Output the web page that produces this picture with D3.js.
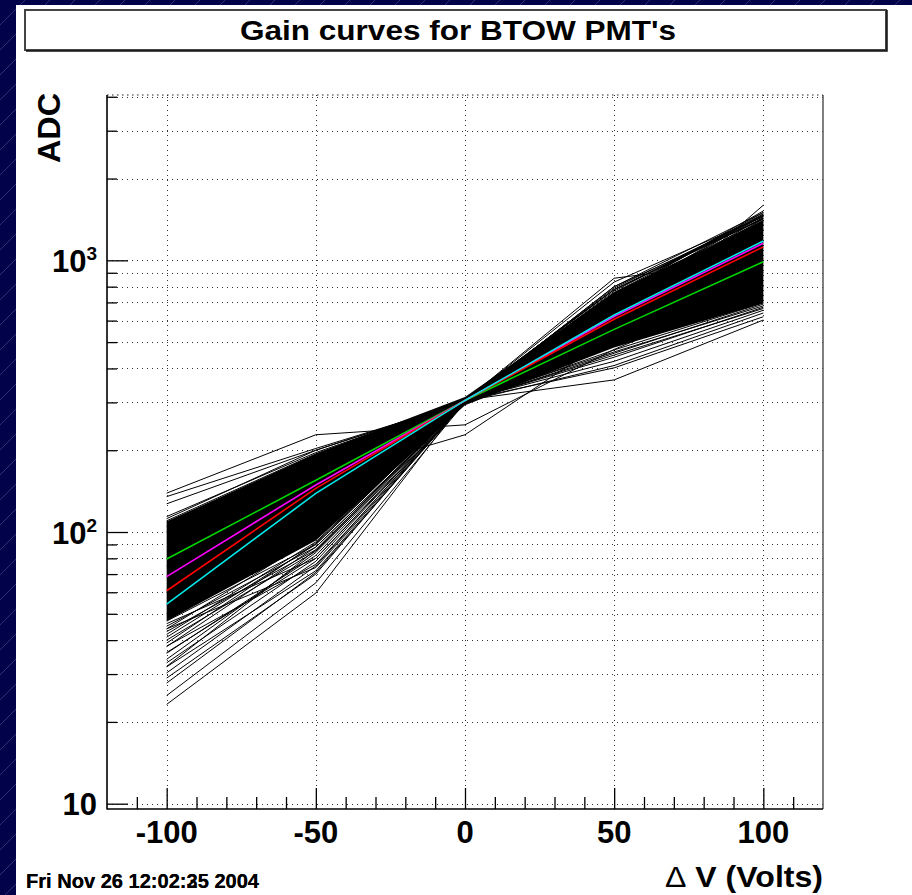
<!DOCTYPE html>
<html><head><meta charset="utf-8">
<script src="https://cdn.jsdelivr.net/npm/d3@7"></script>
<style>body{margin:0;background:#fff}svg{display:block}</style>
</head><body>
<svg id="c" width="912" height="895"></svg>
<script>
// ---------- data ----------
const xValues = [-100, -50, 0, 50, 100];
const xMajorTicks = [-100, -50, 0, 50, 100];
const xTickLabels = ["-100", "-50", "0", "50", "100"];
const xMinorTicks = [-110, -90, -80, -70, -60, -40, -30, -20, -10, 10, 20, 30, 40, 60, 70, 80, 90, 110];
const yDecades = [10, 100, 1000];
const yDecadeBase = ["10", "10", "10"];
const yDecadeExp = ["", "2", "3"];
const yMinorTicks = [20, 30, 40, 50, 60, 70, 80, 90, 200, 300, 400, 500, 600, 700, 800, 900, 2000, 3000, 4000];

// mean gain curves (colored)
const meanGreen   = [79.5, 155, 305, 557, 988];
const meanMagenta = [68.5, 149, 305, 621, 1155];
const meanRed     = [60.8, 144.7, 305, 607, 1121];
const meanCyan    = [54.3, 138.7, 305, 629, 1178];

// dense core of the individual PMT curves (envelope of the solid black mass)
const coreUpper = [109, 194, 314, 760, 1390];
const coreLower = [47, 93, 293, 478, 695];

// individual curves visible at the edges of the mass
const flatCurves = [
  [139, 228, 248, 470, 800],
  [135, 203, 300, 455, 690],
  [127, 200, 303, 440, 672],
  [114, 196, 305, 425, 655],
  [112, 200, 302, 410, 640],
  [110, 194, 306, 402, 620],
  [75, 150, 306, 363, 603],
  [80, 157, 228, 530, 900],
  [109, 190, 300, 468, 697],
  [105, 186, 304, 460, 680],
  [100, 180, 302, 448, 665]
];
const steepCurves = [
  [23.2, 59.6, 308, 780, 1420],
  [27.8, 71, 300, 800, 1500],
  [30.3, 75, 305, 832, 1450],
  [31.9, 72, 302, 760, 1466],
  [35.8, 82, 305, 859, 1010],
  [37.9, 88, 300, 740, 1520],
  [40, 85, 305, 720, 1480],
  [60, 140, 305, 532, 1596],
  [42, 92, 302, 700, 1440],
  [44, 96, 300, 760, 1400],
  [47, 90, 306, 780, 1430],
  [50, 100, 304, 720, 1460],
  [36, 80, 298, 690, 1400],
  [33, 78, 303, 740, 1500],
  [25, 65, 300, 720, 1350],
  [29, 70, 305, 760, 1380],
  [34, 84, 302, 700, 1300],
  [38, 76, 300, 690, 1420],
  [41, 90, 305, 740, 1390],
  [43, 86, 302, 780, 1450],
  [45, 88, 300, 800, 1420],
  [39, 91, 306, 650, 1350],
  [32, 86, 300, 720, 1400],
  [46, 80, 304, 790, 1460],
  [44, 74, 300, 770, 1480]
];

const titleText = "Gain curves for BTOW PMT's";
const xAxisTitle = ["\u0394", " V (Volts)"];
const yAxisTitle = "ADC";
const dateTexts = ["Fri Nov 26 12:02:25 2004", "Fri Nov 26 12:02:35 2004"];

// ---------- layout ----------
const W = 912, H = 895;
const F = {l: 107, r: 823, t: 95, b: 809};
const FONT = "'Liberation Sans', Arial, Helvetica, sans-serif";

const svg = d3.select("#c");
const defs = svg.append("defs");
const pat = defs.append("pattern").attr("id", "hatch").attr("patternUnits", "userSpaceOnUse")
  .attr("width", 25).attr("height", 25);
pat.append("rect").attr("width", 25).attr("height", 25).attr("fill", "#02024a");
pat.append("line").attr("x1", 0).attr("y1", 25).attr("x2", 25).attr("y2", 0)
  .attr("stroke", "#3b3b85").attr("stroke-width", 0.8);

svg.append("rect").attr("width", W).attr("height", H).attr("fill", "url(#hatch)");
svg.append("rect").attr("x", 16).attr("y", 5).attr("width", W - 16).attr("height", H - 5).attr("fill", "#fff");

// title box
svg.append("rect").attr("x", 25).attr("y", 10).attr("width", 861).attr("height", 40)
  .attr("fill", "#fff").attr("stroke", "#444").attr("stroke-width", 2);
svg.append("path").attr("d", "M26,51 L887,51 L887,10").attr("fill", "none").attr("stroke", "#111").attr("stroke-width", 1.5);
svg.append("text").attr("x", 458).attr("y", 40).attr("text-anchor", "middle")
  .attr("font-family", FONT).attr("font-weight", "bold").attr("font-size", 27)
  .attr("textLength", 436).attr("lengthAdjust", "spacingAndGlyphs")
  .text(titleText);

// scales
const x = d3.scaleLinear().domain([-120, 120]).range([F.l, F.r]);
const y = d3.scaleLog().domain([9.56, 4060]).range([F.b, F.t]);

// grid
const grid = svg.append("g").attr("stroke", "#333").attr("stroke-width", 1).attr("stroke-dasharray", "1,4");
grid.selectAll(".gx").data(xMajorTicks).join("line")
  .attr("x1", d => Math.round(x(d)) + 0.5).attr("x2", d => Math.round(x(d)) + 0.5)
  .attr("y1", F.t).attr("y2", F.b);
grid.selectAll(".gy").data(yDecades.concat(yMinorTicks)).join("line")
  .attr("y1", d => Math.round(y(d)) + 0.5).attr("y2", d => Math.round(y(d)) + 0.5)
  .attr("x1", F.l).attr("x2", F.r);

// curves
const line = d3.line().x((d, i) => x(xValues[i])).y(d => y(d));
const area = d3.area().x((d, i) => x(xValues[i])).y0((d, i) => y(coreLower[i])).y1(d => y(d));
const curves = svg.append("g");
curves.append("path").datum(coreUpper).attr("d", area).attr("fill", "#000");
curves.selectAll(".fc").data(flatCurves.concat(steepCurves)).join("path")
  .attr("d", line).attr("fill", "none").attr("stroke", "#000").attr("stroke-width", 1);

const means = [[meanGreen, "#00d400"], [meanMagenta, "#ff00ff"], [meanRed, "#ff0000"], [meanCyan, "#00e8e8"]];
curves.selectAll(".mc").data(means).join("path")
  .attr("d", d => line(d[0])).attr("fill", "none").attr("stroke", d => d[1]).attr("stroke-width", 1.6);

// frame
svg.append("line").attr("x1", F.r).attr("x2", F.r).attr("y1", F.t).attr("y2", F.b).attr("stroke", "#555").attr("stroke-width", 1.5);
svg.append("line").attr("x1", F.l).attr("x2", F.r).attr("y1", F.t).attr("y2", F.t).attr("stroke", "#222").attr("stroke-width", 1.2).attr("stroke-dasharray", "1.5,3.5");

// axes via d3
const axX = svg.append("g").attr("transform", `translate(0,${F.b})`);
axX.append("g").call(d3.axisBottom(x).tickValues(xMajorTicks).tickSize(-21).tickFormat(""));
axX.append("g").call(d3.axisBottom(x).tickValues(xMinorTicks).tickSize(-12).tickFormat(""));
const axY = svg.append("g").attr("transform", `translate(${F.l},0)`);
axY.append("g").call(d3.axisLeft(y).tickValues(yDecades).tickSize(-21).tickFormat(""));
axY.append("g").call(d3.axisLeft(y).tickValues(yMinorTicks).tickSize(-10).tickFormat(""));
svg.selectAll(".domain").remove();
svg.selectAll(".tick line").attr("stroke", "#000").attr("stroke-width", 1.3);
svg.append("line").attr("x1", F.l).attr("x2", F.l).attr("y1", F.t).attr("y2", F.b + 0.5).attr("stroke", "#000").attr("stroke-width", 1.6);
svg.append("line").attr("x1", F.l).attr("x2", F.r).attr("y1", F.b).attr("y2", F.b).attr("stroke", "#000").attr("stroke-width", 1.6);

// tick labels
svg.selectAll(".xl").data(xMajorTicks).join("text")
  .attr("x", d => x(d)).attr("y", 843).attr("text-anchor", "middle")
  .attr("font-family", FONT).attr("font-weight", "bold").attr("font-size", 31)
  .text((d, i) => xTickLabels[i]);

const yl = svg.selectAll(".yl").data(yDecades).join("text")
  .attr("x", 97).attr("y", d => y(d) + 11.5).attr("text-anchor", "end")
  .attr("font-family", FONT).attr("font-weight", "bold").attr("font-size", 31);
yl.append("tspan").text((d, i) => yDecadeBase[i]);
yl.append("tspan").attr("dy", -12).attr("font-size", 19).text((d, i) => yDecadeExp[i]);

// axis titles
const xt = svg.append("text").attr("x", 823).attr("y", 887).attr("text-anchor", "end")
  .attr("font-family", FONT).attr("font-size", 29)
  .attr("textLength", 158).attr("lengthAdjust", "spacingAndGlyphs");
xt.append("tspan").attr("font-weight", "normal").text(xAxisTitle[0]);
xt.append("tspan").attr("font-weight", "bold").text(xAxisTitle[1]);

svg.append("text").attr("transform", "translate(60,93) rotate(-90)").attr("text-anchor", "end")
  .attr("font-family", FONT).attr("font-weight", "bold").attr("font-size", 32)
  .attr("textLength", 70).attr("lengthAdjust", "spacingAndGlyphs")
  .text(yAxisTitle);

// date stamp (two overlapping stamps as in the original)
svg.selectAll(".dt").data(dateTexts).join("text")
  .attr("x", 26).attr("y", 888)
  .attr("font-family", FONT).attr("font-weight", "bold").attr("font-size", 20)
  .attr("textLength", 233).attr("lengthAdjust", "spacingAndGlyphs")
  .text(d => d);
</script>
</body></html>
